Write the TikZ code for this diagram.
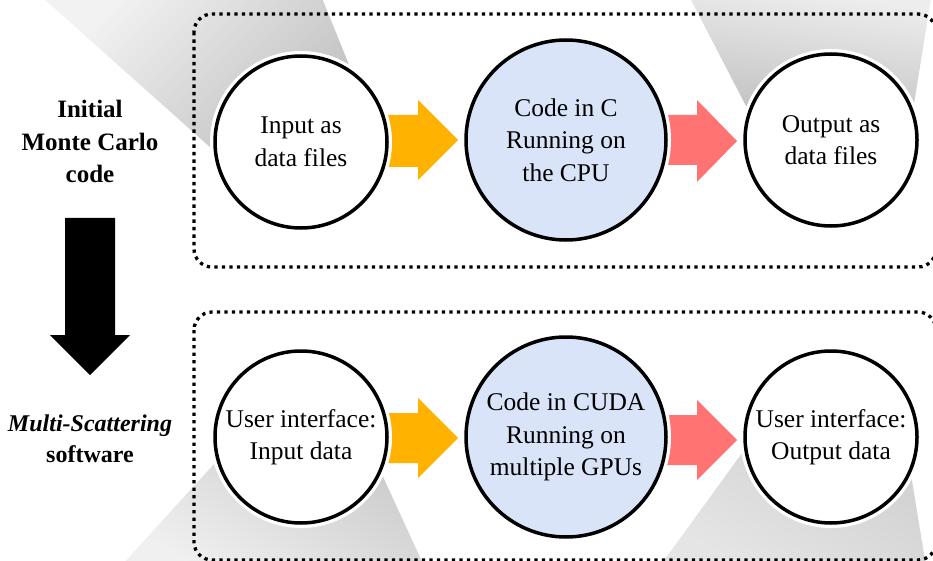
\documentclass[tikz,border=0pt]{standalone}
\usepackage{fontspec}
\setmainfont{Liberation Serif}
\definecolor{cblue}{HTML}{DAE4F9}
\definecolor{cyel}{HTML}{FFB200}
\definecolor{cred}{HTML}{FF7373}
\begin{document}
\begin{tikzpicture}[x=1pt,y=-1pt,
  bubble/.style={circle, draw=black, line width=3.5pt, fill=white, inner sep=0pt,
    align=center, font=\fontsize{25.5}{32.5}\selectfont,
    preaction={draw=white, line width=10pt}},
  procbubble/.style={bubble, fill=cblue},
  sidelabel/.style={align=center, font=\fontsize{25}{32.5}\selectfont\bfseries, inner sep=0pt},
  dotbox/.style={draw=black, line width=3.3pt, dash pattern=on 3.3pt off 4.2pt, rounded corners=18pt},
  beam/.style={draw=none}
]
\path[use as bounding box] (0,0) rectangle (933,561);
\begin{scope}
\clip (0,0) rectangle (933,561);
% gray beams
\shade[beam, top color=black!5, bottom color=black!26, shading angle=45]
  (43,-2) -- (322,-2) -- (360,92) -- (240,174) -- cycle;
\shade[beam, top color=black!7, bottom color=black!30, shading angle=-8]
  (690,-2) -- (931,-2) -- (905,160) -- (774,160) -- cycle;
\shade[beam, top color=black!22, bottom color=black!6, shading angle=-30]
  (254,420) -- (357,420) -- (424,566) -- (121,566) -- cycle;
\shade[beam, top color=black!19, bottom color=black!10, shading angle=-30]
  (766,420) -- (902,420) -- (926,566) -- (660,566) -- cycle;
% dotted frames
\draw[dotbox] (194,14) rectangle (936,267);
\draw[dotbox] (194,312) rectangle (936,560);
\end{scope}

% left labels
\node[sidelabel] (lab1) at (90,141.5) {Initial\\Monte Carlo\\code};
\node[sidelabel, font=\fontsize{24}{31}\selectfont\bfseries] (lab2) at (90,439) {\textit{Multi-Scattering}\\software};

% big black arrow
\fill[black] (65,218) -- (115,218) -- (115,335) -- (130,335) -- (90,375) -- (50,335) -- (65,335) -- cycle;

% block arrows top
\fill[cyel] (386,115) -- (418,115) -- (418,100) -- (458,140) -- (418,180) -- (418,167) -- (386,167) -- cycle;
\fill[cred] (665,115) -- (697,115) -- (697,100) -- (737,141) -- (697,182) -- (697,165) -- (665,165) -- cycle;
% block arrows bottom
\fill[cyel] (386,413) -- (418,413) -- (418,398) -- (458,438) -- (418,478) -- (418,463) -- (386,463) -- cycle;
\fill[cred] (665,415) -- (697,415) -- (697,400) -- (737,440) -- (697,480) -- (697,465) -- (665,465) -- cycle;

% circles top
\node[bubble, minimum size=172pt] (in1) at (301,142) {Input as\\data files};
\node[procbubble, minimum size=200pt] (code1) at (566,140) {Code in C\\Running on\\the CPU};
\node[bubble, minimum size=172pt] (out1) at (831,140) {Output as\\data files};
% circles bottom
\node[bubble, minimum size=172pt] (in2) at (301,437) {User interface:\\Input data};
\node[procbubble, minimum size=200pt] (code2) at (566,437) {Code in CUDA\\Running on\\multiple GPUs};
\node[bubble, minimum size=172pt] (out2) at (831,437) {User interface:\\Output data};
\end{tikzpicture}
\end{document}
